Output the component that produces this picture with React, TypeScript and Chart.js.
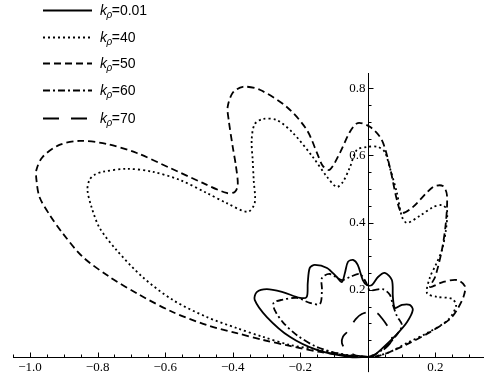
import { useEffect, useRef } from "react";
import { Chart, registerables } from "chart.js";

Chart.register(...registerables);

// k_rho = 0.01 (solid)
const k001X = [0, -0.053, -0.151, -0.231, -0.299, -0.335, -0.329, -0.299, -0.252, -0.201, -0.181, -0.178, -0.172, -0.157, -0.121, -0.092, -0.077, -0.068, -0.059, -0.044, -0.03, -0.015, -0.003, 0.012, 0.03, 0.05, 0.071, 0.074, 0.08, 0.101, 0.124, 0.133, 0.116, 0.086, 0.044, 0.015, 0];
const k001Y = [0, 0, 0.021, 0.06, 0.119, 0.17, 0.193, 0.202, 0.193, 0.176, 0.179, 0.22, 0.265, 0.274, 0.265, 0.238, 0.223, 0.25, 0.283, 0.289, 0.274, 0.229, 0.214, 0.214, 0.238, 0.25, 0.229, 0.179, 0.146, 0.155, 0.155, 0.14, 0.104, 0.068, 0.027, 0.003, 0];

// k_rho = 40 (dotted)
const k40X = [0, -0.044, -0.142, -0.231, -0.311, -0.388, -0.477, -0.578, -0.667, -0.744, -0.794, -0.818, -0.83, -0.824, -0.809, -0.785, -0.714, -0.637, -0.557, -0.477, -0.418, -0.356, -0.335, -0.338, -0.341, -0.344, -0.335, -0.311, -0.27, -0.222, -0.163, -0.121, -0.092, -0.074, -0.053, -0.033, -0.003, 0.03, 0.05, 0.065, 0.086, 0.101, 0.116, 0.154, 0.193, 0.219, 0.234, 0.231, 0.219, 0.201, 0.184, 0.175, 0.204, 0.249, 0.261, 0.237, 0.175, 0.116, 0.065, 0.027, 0];
const k40Y = [0, 0.003, 0.021, 0.036, 0.06, 0.086, 0.119, 0.17, 0.238, 0.318, 0.384, 0.446, 0.497, 0.527, 0.542, 0.551, 0.56, 0.551, 0.527, 0.488, 0.458, 0.432, 0.458, 0.527, 0.586, 0.646, 0.693, 0.708, 0.705, 0.667, 0.595, 0.536, 0.506, 0.521, 0.565, 0.616, 0.625, 0.625, 0.61, 0.563, 0.488, 0.417, 0.399, 0.42, 0.446, 0.452, 0.438, 0.378, 0.318, 0.274, 0.238, 0.19, 0.179, 0.173, 0.152, 0.11, 0.071, 0.042, 0.015, 0.003, 0];

// k_rho = 50 (dashed)
const k50X = [0, -0.044, -0.142, -0.231, -0.311, -0.388, -0.477, -0.578, -0.676, -0.764, -0.844, -0.904, -0.942, -0.972, -0.981, -0.981, -0.963, -0.913, -0.853, -0.773, -0.684, -0.587, -0.489, -0.418, -0.394, -0.385, -0.391, -0.4, -0.412, -0.415, -0.4, -0.37, -0.32, -0.24, -0.181, -0.148, -0.133, -0.113, -0.083, -0.053, -0.03, 0.006, 0.041, 0.065, 0.086, 0.101, 0.133, 0.193, 0.222, 0.234, 0.231, 0.219, 0.199, 0.184, 0.222, 0.264, 0.287, 0.284, 0.267, 0.243, 0.184, 0.124, 0.065, 0.03, 0];
const k50Y = [0, 0.003, 0.015, 0.033, 0.051, 0.071, 0.095, 0.134, 0.185, 0.238, 0.298, 0.369, 0.423, 0.476, 0.527, 0.557, 0.595, 0.631, 0.643, 0.634, 0.607, 0.563, 0.518, 0.488, 0.491, 0.512, 0.571, 0.625, 0.705, 0.744, 0.786, 0.804, 0.795, 0.744, 0.676, 0.601, 0.568, 0.557, 0.607, 0.67, 0.696, 0.685, 0.646, 0.565, 0.467, 0.429, 0.446, 0.506, 0.509, 0.482, 0.402, 0.318, 0.238, 0.208, 0.223, 0.229, 0.211, 0.182, 0.146, 0.113, 0.074, 0.042, 0.015, 0.003, 0];

// k_rho = 60 (dash-dot)
const k60X = [0, -0.068, -0.151, -0.21, -0.252, -0.276, -0.279, -0.255, -0.21, -0.172, -0.142, -0.136, -0.136, -0.113, -0.077, -0.053, -0.024, -0.006, 0.006, 0.044, 0.065, 0.074, 0.086, 0.101, 0.089, 0.059, 0.024, 0];
const k60Y = [0, 0.006, 0.03, 0.065, 0.104, 0.14, 0.161, 0.17, 0.176, 0.161, 0.158, 0.199, 0.235, 0.247, 0.229, 0.238, 0.247, 0.223, 0.199, 0.202, 0.185, 0.155, 0.122, 0.095, 0.071, 0.036, 0.009, 0];

// k_rho = 70 (long dash)
const k70X = [0, -0.039, -0.065, -0.077, -0.074, -0.062, -0.05, -0.036, -0.018, 0.006, 0.027, 0.041, 0.056, 0.068, 0.071, 0.053, 0.027, 0];
const k70Y = [0, 0.006, 0.021, 0.042, 0.06, 0.074, 0.092, 0.113, 0.128, 0.134, 0.131, 0.116, 0.095, 0.074, 0.051, 0.027, 0.009, 0];

const legendValues = ["0.01", "40", "50", "60", "70"];
const xTickValues = [-1.0, -0.8, -0.6, -0.4, -0.2, 0.2];
const xTickLabels = ["\u22121.0", "\u22120.8", "\u22120.6", "\u22120.4", "\u22120.2", "0.2"];
const yTickValues = [0.2, 0.4, 0.6, 0.8];
const yTickLabels = ["0.2", "0.4", "0.6", "0.8"];

const dashes: number[][] = [[], [2, 3], [7, 4], [7, 3, 2, 3], [16, 12]];

function toPoints(xs: number[], ys: number[]) {
  return xs.map((x, i) => ({ x, y: ys[i] }));
}

const mmaPlugin = {
  id: "mmaAxes",
  beforeDatasetsDraw(chart: any) {
    const ctx = chart.ctx as CanvasRenderingContext2D;
    const xs = chart.scales.x;
    const ys = chart.scales.y;
    const area = chart.chartArea;
    const x0 = Math.round(xs.getPixelForValue(0)) + 0.5;
    const y0 = Math.round(ys.getPixelForValue(0)) + 0.5;
    ctx.save();
    ctx.strokeStyle = "#000";
    ctx.lineWidth = 1;
    ctx.beginPath();
    ctx.moveTo(area.left, y0);
    ctx.lineTo(area.right, y0);
    ctx.moveTo(x0, area.top);
    ctx.lineTo(x0, ys.getPixelForValue(-0.045));
    ctx.stroke();
    // x ticks (every 0.05, major every 0.2)
    ctx.beginPath();
    for (let i = -21; i <= 6; i++) {
      if (i === 0) continue;
      const p = Math.round(xs.getPixelForValue(i * 0.05)) + 0.5;
      const len = i % 4 === 0 ? 5 : 3;
      ctx.moveTo(p, y0);
      ctx.lineTo(p, y0 - len);
    }
    for (let i = 1; i <= 16; i++) {
      const p = Math.round(ys.getPixelForValue(i * 0.05)) + 0.5;
      const len = i % 4 === 0 ? 5 : 3;
      ctx.moveTo(x0, p);
      ctx.lineTo(x0 + len, p);
    }
    ctx.stroke();
    ctx.fillStyle = "#000";
    ctx.font = "13px 'Liberation Serif', 'DejaVu Serif', serif";
    ctx.textAlign = "center";
    ctx.textBaseline = "top";
    xTickValues.forEach((v, i) => {
      ctx.fillText(xTickLabels[i], xs.getPixelForValue(v), y0 + 4);
    });
    ctx.textAlign = "right";
    ctx.textBaseline = "middle";
    yTickValues.forEach((v, i) => {
      ctx.fillText(yTickLabels[i], x0 - 3, ys.getPixelForValue(v));
    });
    ctx.restore();
  },
  afterDraw(chart: any) {
    const ctx = chart.ctx as CanvasRenderingContext2D;
    ctx.save();
    const rows = [10, 37, 63, 90, 118];
    legendValues.forEach((val, i) => {
      const y = rows[i] + 0.5;
      ctx.strokeStyle = "#000";
      ctx.lineWidth = 2;
      ctx.setLineDash(dashes[i]);
      ctx.beginPath();
      ctx.moveTo(43, y);
      ctx.lineTo(92, y);
      ctx.stroke();
      ctx.setLineDash([]);
      ctx.fillStyle = "#000";
      ctx.textBaseline = "alphabetic";
      ctx.textAlign = "left";
      let x = 100;
      const base = rows[i] + 5;
      ctx.font = "italic 14px 'Liberation Sans', Arial, sans-serif";
      ctx.fillText("k", x, base);
      x += ctx.measureText("k").width - 0.5;
      ctx.font = "italic 10px 'Liberation Sans', Arial, sans-serif";
      ctx.fillText("\u03C1", x, base + 3);
      x += ctx.measureText("\u03C1").width - 0.5;
      ctx.font = "14px 'Liberation Sans', Arial, sans-serif";
      ctx.fillText("=" + val, x, base);
    });
    ctx.restore();
  },
};

export default function App() {
  const ref = useRef<HTMLCanvasElement | null>(null);
  useEffect(() => {
    document.body.style.margin = "0";
    if (!ref.current) return;
    const series = [
      [k001X, k001Y],
      [k40X, k40Y],
      [k50X, k50Y],
      [k60X, k60Y],
      [k70X, k70Y],
    ];
    const chart = new Chart(ref.current, {
      type: "scatter",
      data: {
        datasets: series.map((s, i) => ({
          label: "k" + legendValues[i],
          data: toPoints(s[0], s[1]),
          showLine: true,
          borderColor: "#000",
          backgroundColor: "#000",
          borderWidth: 1.8,
          borderDash: dashes[i],
          borderJoinStyle: "round" as const,
          pointRadius: 0,
          tension: 0.3,
        })),
      },
      options: {
        animation: false,
        responsive: false,
        layout: { padding: { left: 13, right: 0, top: 73, bottom: 19 } },
        plugins: { legend: { display: false }, tooltip: { enabled: false } },
        scales: {
          x: { type: "linear", min: -1.0504, max: 0.3437, display: false },
          y: { type: "linear", min: -0.0089, max: 0.845, display: false },
        },
      },
      plugins: [mmaPlugin],
    });
    return () => chart.destroy();
  }, []);
  return <canvas ref={ref} width={484} height={379} style={{ display: "block" }} />;
}
